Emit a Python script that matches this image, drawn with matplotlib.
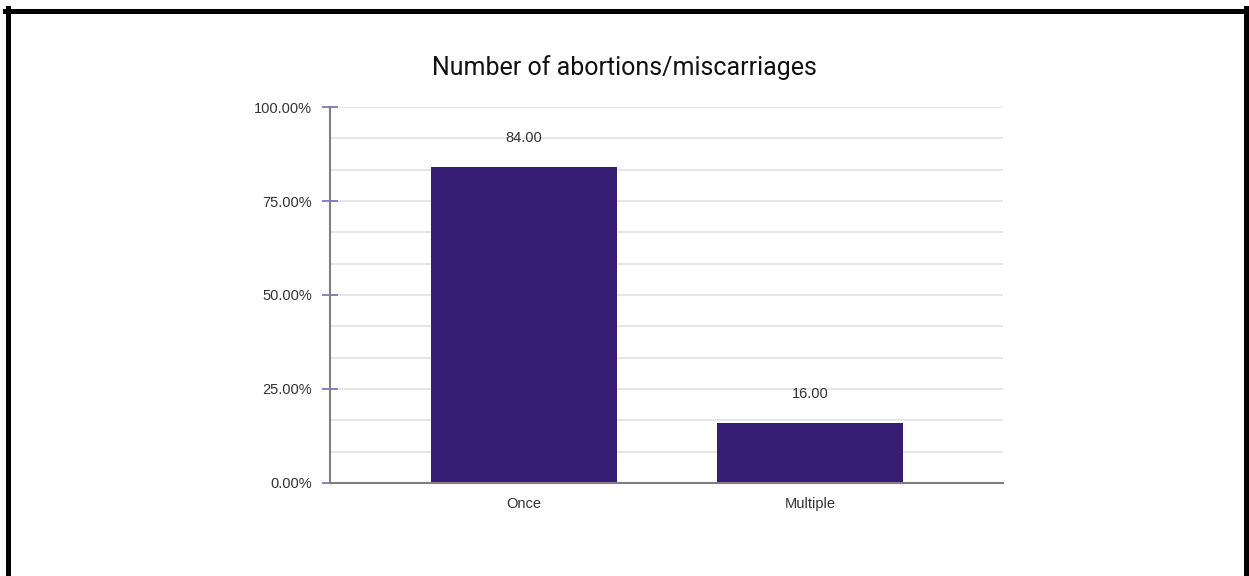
import numpy as np
import matplotlib
matplotlib.use('Agg')
import matplotlib.pyplot as plt
from matplotlib.lines import Line2D

plt.rcParams['font.family'] = ['Liberation Sans', 'DejaVu Sans']

categories = ['Once', 'Multiple']
values = [84.00, 16.00]
yticks = [0, 25, 50, 75, 100]
ytick_labels = ['0.00%', '25.00%', '50.00%', '75.00%', '100.00%']

bar_color = '#361c72'

fig = plt.figure(figsize=(12.49, 5.76), dpi=100)
ax = fig.add_axes([0.2642, 0.1615, 0.5389, 0.6527])

x = np.arange(len(categories))
ax.bar(x, values, width=0.65, color=bar_color, zorder=3)

for xi, v in zip(x, values):
    ax.text(xi, v + 5.8, '%.2f' % v, ha='center', va='bottom', fontsize=10.5, color='#333333')

ax.set_xlim(-0.677, 1.675)
ax.set_ylim(0, 100)

# gridlines every 1/3 of a major step
for g in np.arange(0, 100.01, 25 / 3):
    if g > 0:
        ax.axhline(g, color='#e2e2e2', lw=1.2, zorder=1)

ax.set_yticks(yticks)
ax.set_yticklabels(ytick_labels, fontsize=10.5, color='#333333')
ax.tick_params(axis='y', direction='inout', length=11.5, width=1.2, color='#7b68c4', pad=7)
ax.set_xticks(x)
ax.set_xticklabels(categories, fontsize=10.5, color='#333333')
ax.tick_params(axis='x', length=0, pad=10)

for s in ['top', 'right']:
    ax.spines[s].set_visible(False)
ax.spines['left'].set_color('#808080')
ax.spines['left'].set_linewidth(1.5)
ax.spines['bottom'].set_color('#808080')
ax.spines['bottom'].set_linewidth(1.5)
ax.spines['left'].set_zorder(4)
ax.spines['bottom'].set_zorder(4)

fig.text(0.5, 0.883, 'Number of abortions/miscarriages', ha='center', va='center',
         fontsize=18, color='#111111', family=['Roboto', 'DejaVu Sans'])

# black frame around the picture (no bottom edge)
W, H = 1249, 576
lw = 5 * 72 / 100
fig.add_artist(Line2D([7.5 / W, 7.5 / W], [0, 1 - 8 / H], color='black', lw=lw, transform=fig.transFigure))
fig.add_artist(Line2D([5 / W, 1 - 3.5 / W], [1 - 10.5 / H, 1 - 10.5 / H], color='black', lw=lw, transform=fig.transFigure))
fig.add_artist(Line2D([1 - 3.5 / W, 1 - 3.5 / W], [0, 1 - 8 / H], color='black', lw=lw, transform=fig.transFigure))

fig.savefig('out.png', dpi=100, facecolor='white')
